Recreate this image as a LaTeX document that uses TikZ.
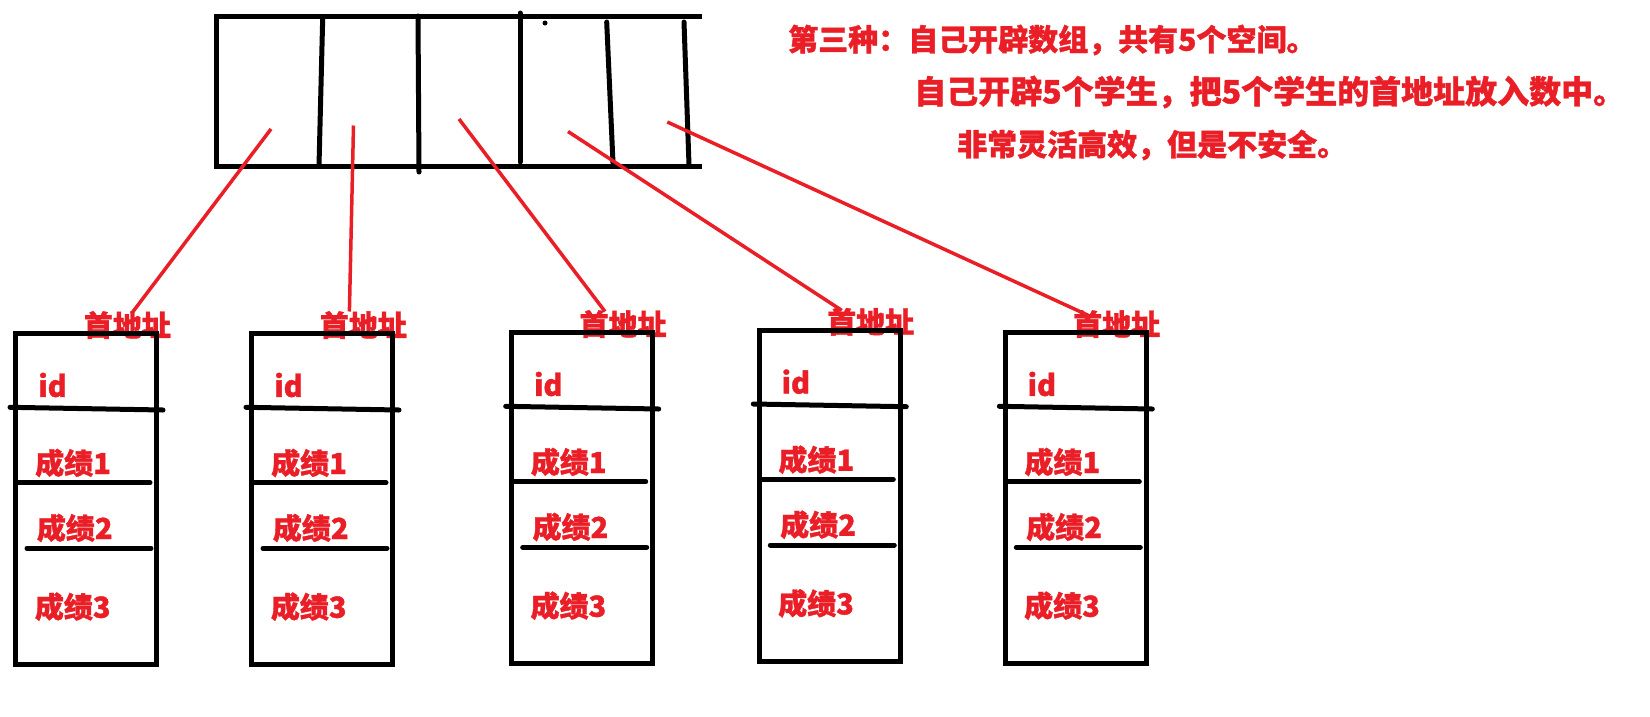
\documentclass[tikz,border=0pt]{standalone}
\usepackage{fontspec}
\newfontfamily\cjk{Noto Sans CJK SC}[BoldFeatures={FakeBold=1.2}]
\definecolor{pred}{RGB}{234,30,38}
\tikzset{
  ink/.style={line width=5pt, black, line cap=round},
  redline/.style={line width=3.5pt, pred},
  rtext/.style={inner sep=0pt, anchor=west, text=pred, font=\cjk\bfseries\fontsize{29}{31}\selectfont},
  bigtext/.style={rtext, font=\cjk\bfseries\fontsize{30}{32}\selectfont},
  studbox/.style={draw, line width=5pt, minimum width=141pt, minimum height=331pt, inner sep=0pt, outer sep=0pt, anchor=north west}
}
\begin{document}
\begin{tikzpicture}[x=1pt,y=-1pt]
\useasboundingbox (0,0) rectangle (1650,716);
% top array
\draw[ink, line cap=butt] (702,16) -- (216,16) -- (216,166) -- (702,166);
\draw[ink] (322.7,18) -- (319,166);
\draw[ink] (418,16) -- (419,172);
\draw[ink] (520,13) -- (520,162);
\draw[ink] (606.7,22) -- (613,163);
\draw[ink] (684,22) -- (689,165);
\fill (545,23) circle (2.5pt);
% cell points (pointer starts)
\coordinate (c1) at (271,129);
\coordinate (c2) at (353.5,125.5);
\coordinate (c3) at (459,119);
\coordinate (c4) at (568,131.5);
\coordinate (c5) at (667.3,122);
% pointer ends
\coordinate (e1) at (131.5,313.6);
\coordinate (e2) at (349.4,311.5);
\coordinate (e3) at (605,311.5);
\coordinate (e4) at (841.8,310.4);
\coordinate (e5) at (1089,315.7);
\foreach \i in {1,...,5}{\draw[redline] (c\i) -- (e\i);}
% description
\node[bigtext] (t1) at (788,40) {第三种：自己开辟数组，共有5个空间。};
\node[bigtext, font=\cjk\bfseries\fontsize{32}{34}\selectfont] (t2) at (914,92) {自己开辟5个学生，把5个学生的首地址放入数中。};
\node[bigtext] (t3) at (957,145) {非常灵活高效，但是不安全。};
% student boxes
\foreach \i/\L/\T in {1/15.7/333.3, 2/251.7/333.3, 3/511.4/332.3, 4/759/330, 5/1005/332.3}{
  \node[rtext] (lab\i) at (\L+68,\T-8.3) {首地址};
  \node[studbox] (box\i) at (\L,\T) {};
  \node[rtext] (id\i) at (\L+22.5,\T+51.7) {id};
  \node[rtext] (g1\i) at (\L+19.3,\T+129.7) {成绩1};
  \node[rtext] (g2\i) at (\L+21,\T+194.7) {成绩2};
  \node[rtext] (g3\i) at (\L+19,\T+273.4) {成绩3};
  \draw[ink] (\L-5.7,\T+74) -- (\L+147.3,\T+76.7);
  \draw[ink] (\L+1.3,\T+149.4) -- (\L+134.3,\T+149.4);
  \draw[ink] (\L+11.3,\T+215) -- (\L+135.3,\T+215);
}
\end{tikzpicture}
\end{document}
